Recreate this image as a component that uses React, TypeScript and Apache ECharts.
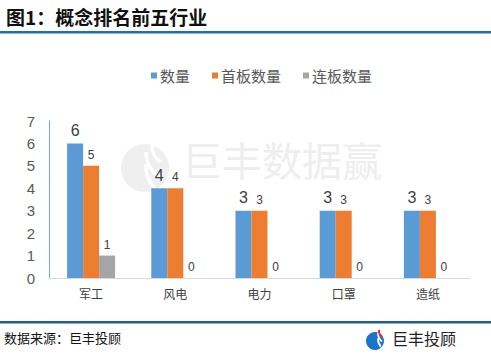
import React, { useEffect, useRef } from "react";
import * as echarts from "echarts";

const categories = ["军工", "风电", "电力", "口罩", "造纸"];
const countValues = [6, 4, 3, 3, 3];
const firstBoardValues = [5, 4, 3, 3, 3];
const consecutiveValues = [1, 0, 0, 0, 0];
const seriesNames = ["数量", "首板数量", "连板数量"];
const yTicks = [0, 1, 2, 3, 4, 5, 6, 7];

const FONT = "'Noto Sans CJK SC', 'Noto Sans', sans-serif";
const NUMFONT = "'Liberation Sans', Arial, sans-serif";

export default function App() {
  const ref = useRef<HTMLDivElement>(null);
  useEffect(() => {
    if (!ref.current) return;
    const chart = echarts.init(ref.current, null, { renderer: "svg" });
    const smallLabel = { show: true, position: "top", distance: 5, fontSize: 12, color: "#404040", fontFamily: NUMFONT };
    chart.setOption({
      animation: false,
      backgroundColor: "#ffffff",
      textStyle: { fontFamily: FONT },
      legend: {
        data: seriesNames,
        top: 63,
        left: 146,
        itemWidth: 6,
        itemHeight: 6,
        itemGap: 22,
        icon: "rect",
        textStyle: { fontSize: 15, color: "#595959", fontFamily: FONT, padding: [0, 0, 0, -2] },
      },
      grid: { left: 49, right: 21, top: 121, bottom: 78 },
      xAxis: {
        type: "category",
        data: categories,
        axisLine: { show: true, lineStyle: { color: "#d9d9d9", width: 1 } },
        axisTick: { show: false },
        axisLabel: { fontSize: 12, color: "#404040", margin: 9, fontFamily: FONT },
      },
      yAxis: {
        type: "value",
        min: yTicks[0],
        max: yTicks[yTicks.length - 1],
        interval: 1,
        splitLine: { show: false },
        axisLine: { show: true, lineStyle: { color: "#7aa7d6", width: 1 } },
        axisTick: { show: false },
        axisLabel: { fontSize: 15, color: "#595959", margin: 14, fontFamily: NUMFONT },
      },
      series: [
        {
          name: seriesNames[0],
          type: "bar",
          data: countValues,
          barWidth: 16,
          barGap: "0%",
          itemStyle: { color: "#5b9bd5" },
          label: { show: true, position: "top", distance: 5, fontSize: 16, color: "#404040", fontFamily: NUMFONT },
          z: 3,
        },
        {
          name: seriesNames[1],
          type: "bar",
          data: firstBoardValues,
          barWidth: 16,
          barGap: "0%",
          itemStyle: { color: "#ed7d31" },
          label: smallLabel,
          z: 3,
        },
        {
          name: seriesNames[2],
          type: "bar",
          data: consecutiveValues,
          barWidth: 16,
          barGap: "0%",
          itemStyle: { color: "#a5a5a5" },
          label: smallLabel,
          z: 3,
        },
      ],
      graphic: [
        {
          type: "text",
          left: 6,
          top: 7,
          style: { text: "图1：概念排名前五行业", fill: "#111111", font: `bold 19px ${FONT}` },
        },
        { type: "rect", shape: { x: 0, y: 31, width: 491, height: 2.5 }, style: { fill: "#1f6fb5" } },
        { type: "rect", shape: { x: 0, y: 321, width: 491, height: 2.5 }, style: { fill: "#1f5f8b" } },
        {
          type: "text",
          left: 4,
          top: 331,
          style: { text: "数据来源：巨丰投顾", font: `13px ${FONT}`, fill: "#111111" },
        },
        // footer logo
        {
          type: "group",
          children: [
            { type: "circle", shape: { cx: 375, cy: 341, r: 9 }, style: { fill: "#1b74c9" } },
            { type: "arc", shape: { cx: 389, cy: 333, r: 11, startAngle: Math.PI * 0.72, endAngle: Math.PI * 1.0 }, style: { stroke: "#ffffff", lineWidth: 1.8, fill: "none" } },
            { type: "arc", shape: { cx: 390, cy: 339, r: 12, startAngle: Math.PI * 0.78, endAngle: Math.PI * 1.02 }, style: { stroke: "#ffffff", lineWidth: 1.8, fill: "none" } },
            { type: "arc", shape: { cx: 386, cy: 331, r: 7, startAngle: Math.PI * 0.7, endAngle: Math.PI * 1.05 }, style: { stroke: "#e0312f", lineWidth: 2, fill: "none" } },
          ],
        },
        {
          type: "text",
          left: 392,
          top: 330,
          style: { text: "巨丰投顾", font: `16px ${FONT}`, fill: "#222222" },
        },
        // watermark
        {
          type: "group",
          z: -1,
          silent: true,
          children: [
            { type: "circle", shape: { cx: 145, cy: 168, r: 24 }, style: { fill: "#efefef" } },
            { type: "arc", shape: { cx: 176, cy: 152, r: 30, startAngle: Math.PI * 0.68, endAngle: Math.PI * 1.0 }, style: { stroke: "#ffffff", lineWidth: 3.5, fill: "none" } },
            { type: "arc", shape: { cx: 178, cy: 166, r: 32, startAngle: Math.PI * 0.75, endAngle: Math.PI * 1.02 }, style: { stroke: "#ffffff", lineWidth: 3.5, fill: "none" } },
            { type: "arc", shape: { cx: 172, cy: 146, r: 20, startAngle: Math.PI * 0.7, endAngle: Math.PI * 1.05 }, style: { stroke: "#ffffff", lineWidth: 3.5, fill: "none" } },
            {
              type: "text",
              x: 182,
              y: 139,
              style: { text: "巨丰数据赢", font: `40px ${FONT}`, lineHeight: 40, fill: "#eeeeee", verticalAlign: "top" },
            },
          ],
        },
      ],
    });
    return () => chart.dispose();
  }, []);
  return <div ref={ref} style={{ position: "fixed", left: 0, top: 0, width: 491, height: 356 }} />;
}
